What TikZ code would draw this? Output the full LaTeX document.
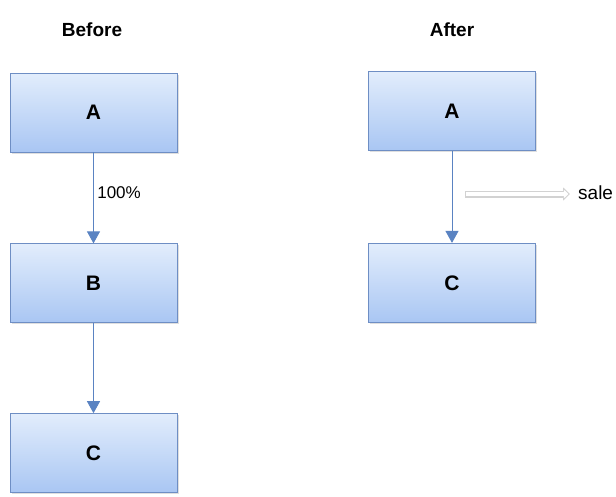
\documentclass[tikz,border=0pt]{standalone}
\usepackage{fontspec}
\setmainfont{Liberation Sans}
\usepackage{tikz}
\usetikzlibrary{
    positioning,
    arrows.meta,
    shadows
}
\definecolor{boxtop}{HTML}{E2EDFC}
\definecolor{boxbottom}{HTML}{A9C6F3}
\definecolor{boxline}{HTML}{6E8EC4}
\definecolor{flowblue}{HTML}{5A83C2}

\begin{document}
\begin{tikzpicture}[
    block/.style={rectangle, draw=boxline, line width=0.8pt, top color=boxtop, bottom color=boxbottom, minimum width=167pt, minimum height=79pt, inner sep=0pt, font=\fontsize{21}{24}\selectfont\bfseries, drop shadow={opacity=0.25, shadow xshift=1.5pt, shadow yshift=-1.5pt}},
    heading/.style={font=\fontsize{19}{22}\selectfont\bfseries},
    flow/.style={-{Triangle[width=13pt, length=12pt]}, line width=1pt, draw=flowblue},
    outflow/.style={line width=7pt, draw=gray!35, -{Triangle[length=7pt, width=13pt]}},
    outflowfill/.style={line width=4.5pt, draw=white, shorten >=1.6pt, -{Triangle[length=4.6pt, width=8.5pt]}}
]
\useasboundingbox (0,0) rectangle (616pt,-496pt);

% before
\node[heading] (before) at (92pt,-30pt) {Before};
\node[block] (a1) at (93.5pt,-112.5pt) {A};
\node[block, below=91pt of a1] (b1) {B};
\node[block, below=90pt of b1] (c1) {C};

\draw[flow] (a1) -- node[pos=0.44, right, font=\fontsize{17}{20}\selectfont] {100\%} (b1);
\draw[flow] (b1) -- (c1);

% after
\node[heading] (after) at (452pt,-30pt) {After};
\node[block] (a2) at (452pt,-111pt) {A};
\node[block, below=92pt of a2] (c2) {C};
\node[anchor=west, font=\fontsize{19}{22}\selectfont, inner sep=2pt] (sale) at (576pt,-193pt) {sale};
\coordinate (split) at (465pt,-194pt);
\coordinate (saletip) at ([xshift=-6pt]sale.west |- split);

\draw[flow] (a2) -- (c2);
\draw[outflow] (split) -- (saletip);
\draw[outflowfill] ([xshift=1.2pt]split) -- (saletip);
\end{tikzpicture}
\end{document}
